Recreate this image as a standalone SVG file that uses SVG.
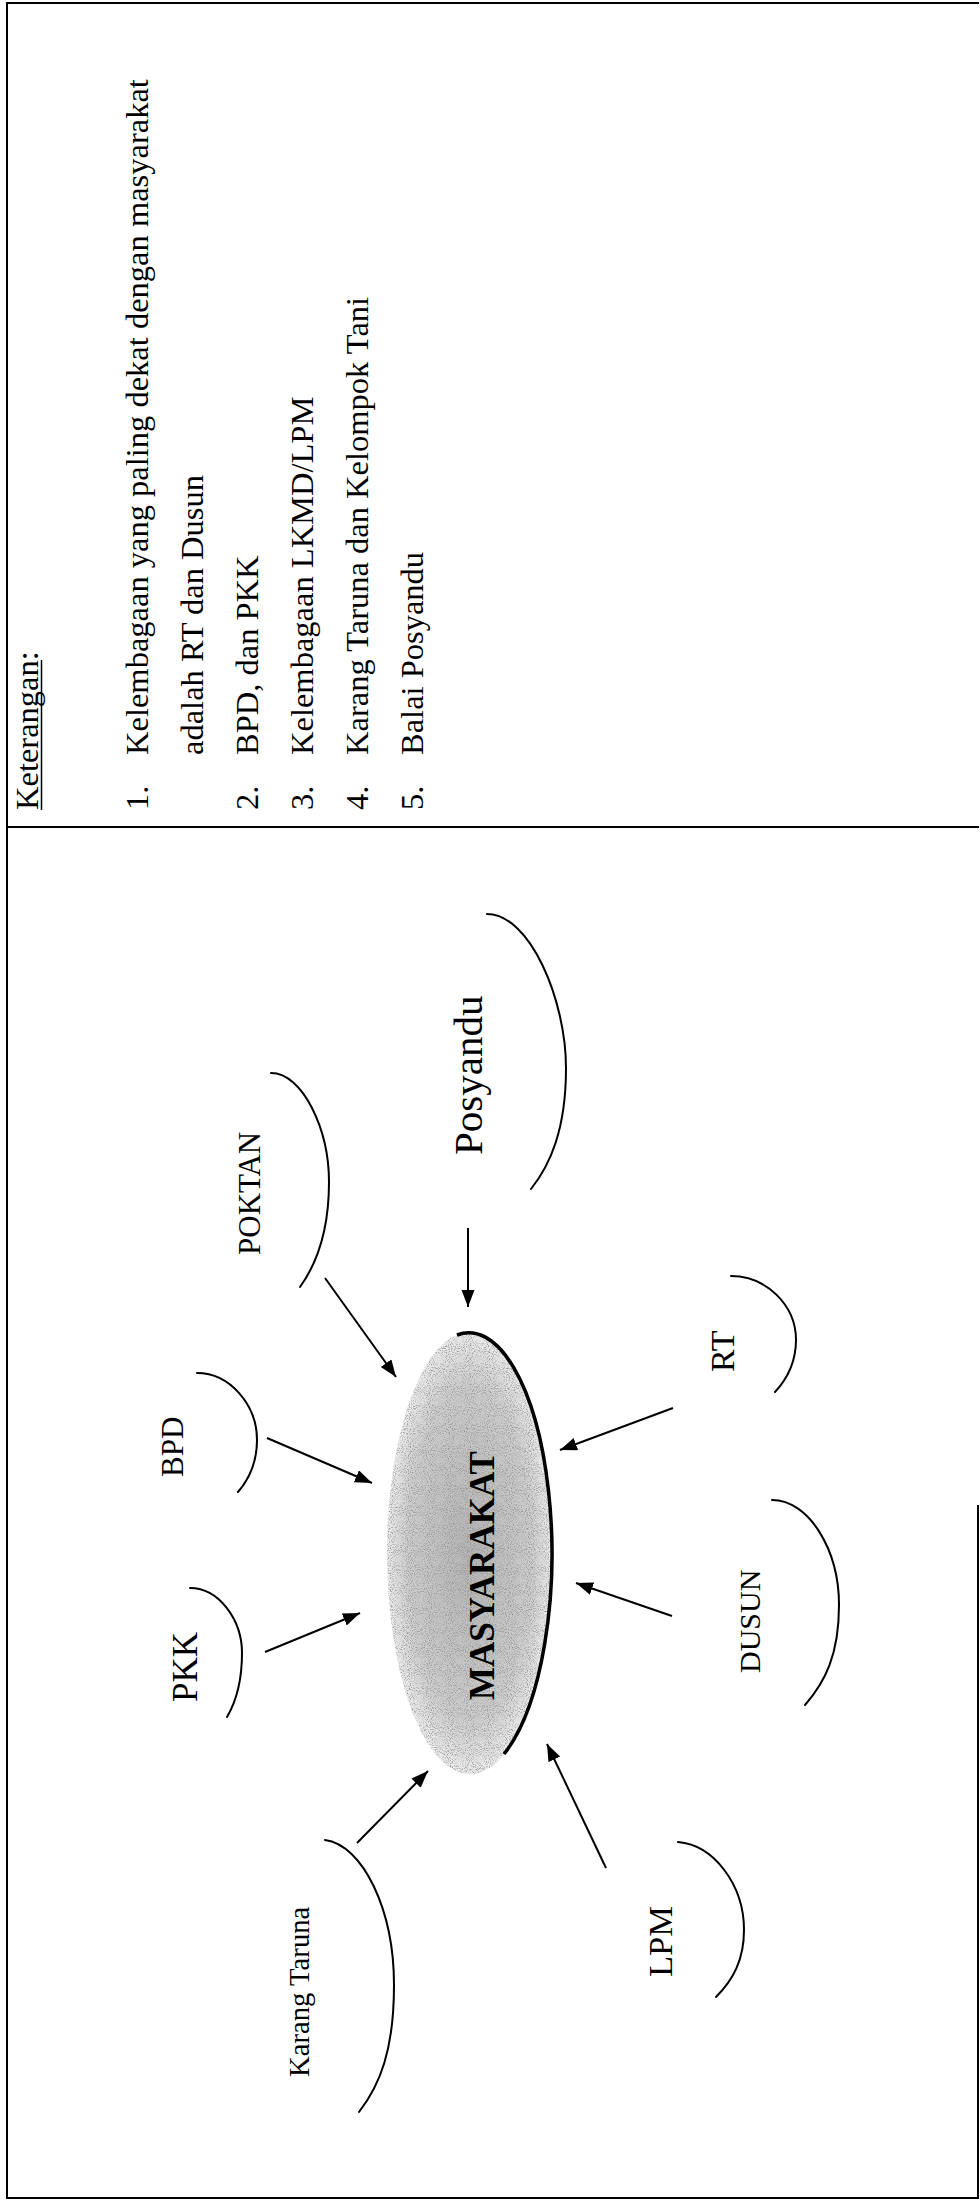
<svg xmlns="http://www.w3.org/2000/svg" width="980" height="2204" viewBox="0 0 980 2204">
<style>
.t{font-family:"Liberation Serif","Times New Roman",serif;fill:#000}
.frame{stroke:#000;stroke-width:2;fill:none}
.arc{fill:none;stroke:#000;stroke-width:2;stroke-linecap:round}
.conn{stroke:#000;stroke-width:2;fill:none}
</style>
<defs>
<marker id="ah" markerUnits="userSpaceOnUse" markerWidth="18" markerHeight="14" refX="17" refY="6.5" orient="auto">
<path d="M0,0 L17,6.5 L0,13 z" fill="#000"/>
</marker>
<radialGradient id="eg" cx="0.5" cy="0.5" r="0.5">
<stop offset="0" stop-color="#b4b4b4"/>
<stop offset="0.75" stop-color="#cdcdcd"/>
<stop offset="1" stop-color="#ececec"/>
</radialGradient>
<filter id="speck" x="0" y="0" width="1" height="1">
<feTurbulence type="fractalNoise" baseFrequency="0.95" numOctaves="1" seed="7" result="noise"/>
<feColorMatrix in="noise" type="matrix" values="0 0 0 0 0.25  0 0 0 0 0.25  0 0 0 0 0.25  3 0 0 0 -1.45" result="dots"/>
<feComposite in="dots" in2="SourceGraphic" operator="in"/>
</filter>
</defs>
<rect width="980" height="2204" fill="#fff"/>

<g id="frame">
<line class="frame" x1="7" y1="2" x2="7" y2="2199"/>
<line class="frame" x1="6" y1="3" x2="979" y2="3"/>
<line class="frame" x1="6" y1="2198" x2="979" y2="2198"/>
<line class="frame" x1="978" y1="1505" x2="978" y2="2199"/>
<line class="frame" x1="7" y1="827" x2="979" y2="827"/>
</g>

<g id="legend" class="t" font-size="32.5">
<text transform="translate(38,810) rotate(-90)">Keterangan:</text>
<line x1="41.5" y1="810" x2="41.5" y2="660" stroke="#000" stroke-width="1.5"/>
<text transform="translate(148,810) rotate(-90)">1.</text>
<text transform="translate(148,755) rotate(-90)">Kelembagaan yang paling dekat dengan masyarakat</text>
<text transform="translate(203,755) rotate(-90)">adalah RT dan Dusun</text>
<text transform="translate(258,810) rotate(-90)">2.</text>
<text transform="translate(258,755) rotate(-90)">BPD, dan PKK</text>
<text transform="translate(313,810) rotate(-90)">3.</text>
<text transform="translate(313,755) rotate(-90)">Kelembagaan LKMD/LPM</text>
<text transform="translate(368,810) rotate(-90)">4.</text>
<text transform="translate(368,755) rotate(-90)">Karang Taruna dan Kelompok Tani</text>
<text transform="translate(423,810) rotate(-90)">5.</text>
<text transform="translate(423,755) rotate(-90)">Balai Posyandu</text>
</g>

<g id="masyarakat">
<ellipse cx="470" cy="1553" rx="83" ry="221" fill="url(#eg)"/>
<ellipse cx="470" cy="1553" rx="83" ry="221" fill="#000" filter="url(#speck)"/>
<path d="M457,1335 A83,221 0 0 1 504,1754" fill="none" stroke="#000" stroke-width="3.5"/>
<text class="t" font-weight="bold" font-size="35" transform="translate(494,1700) rotate(-90)">MASYARAKAT</text>
</g>

<g id="posyandu">
<path class="arc" d="M487,914 C530,914 566,1000 566,1068 C566,1130 550,1165 531,1189"/>
<text class="t" font-size="41" transform="translate(482,1155) rotate(-90)">Posyandu</text>
</g>
<g id="poktan">
<path class="arc" d="M271,1073 C303,1073 329,1130 329,1182 C329,1230 318,1262 300,1287"/>
<text class="t" font-size="31" transform="translate(260,1255) rotate(-90)">POKTAN</text>
</g>
<g id="bpd">
<path class="arc" d="M197,1373 C230,1373 257,1405 257,1440 C257,1462 250,1478 238,1492"/>
<text class="t" font-size="31" transform="translate(183,1477) rotate(-90)">BPD</text>
</g>
<g id="pkk">
<path class="arc" d="M190,1588 C219,1588 242,1620 242,1653 C242,1680 237,1700 227,1717"/>
<text class="t" font-size="35" transform="translate(197,1702) rotate(-90)">PKK</text>
</g>
<g id="karang-taruna">
<path class="arc" d="M325,1840 C363,1845 394,1910 394,1985 C394,2050 380,2085 359,2112"/>
<text class="t" font-size="28.7" transform="translate(309,2077) rotate(-90)">Karang Taruna</text>
</g>
<g id="rt">
<path class="arc" d="M731,1276 C766,1276 796,1305 796,1340 C796,1362 788,1378 775,1392"/>
<text class="t" font-size="34" transform="translate(734,1372) rotate(-90)">RT</text>
</g>
<g id="dusun">
<path class="arc" d="M772,1500 C809,1500 839,1550 839,1605 C839,1655 825,1682 805,1705"/>
<text class="t" font-size="30" transform="translate(760,1673) rotate(-90)">DUSUN</text>
</g>
<g id="lpm">
<path class="arc" d="M678,1842 C714,1845 744,1885 744,1930 C744,1960 733,1980 716,1997"/>
<text class="t" font-size="34.5" transform="translate(672,1977) rotate(-90)">LPM</text>
</g>

<g id="connectors">
<line class="conn" x1="468" y1="1228" x2="468" y2="1307" marker-end="url(#ah)"/>
<line class="conn" x1="325" y1="1278" x2="396" y2="1377" marker-end="url(#ah)"/>
<line class="conn" x1="267" y1="1438" x2="372" y2="1483" marker-end="url(#ah)"/>
<line class="conn" x1="265" y1="1652" x2="360" y2="1613" marker-end="url(#ah)"/>
<line class="conn" x1="357" y1="1843" x2="428" y2="1771" marker-end="url(#ah)"/>
<line class="conn" x1="606" y1="1868" x2="547" y2="1744" marker-end="url(#ah)"/>
<line class="conn" x1="672" y1="1616" x2="576" y2="1583" marker-end="url(#ah)"/>
<line class="conn" x1="673" y1="1408" x2="560" y2="1450" marker-end="url(#ah)"/>
</g>
</svg>
